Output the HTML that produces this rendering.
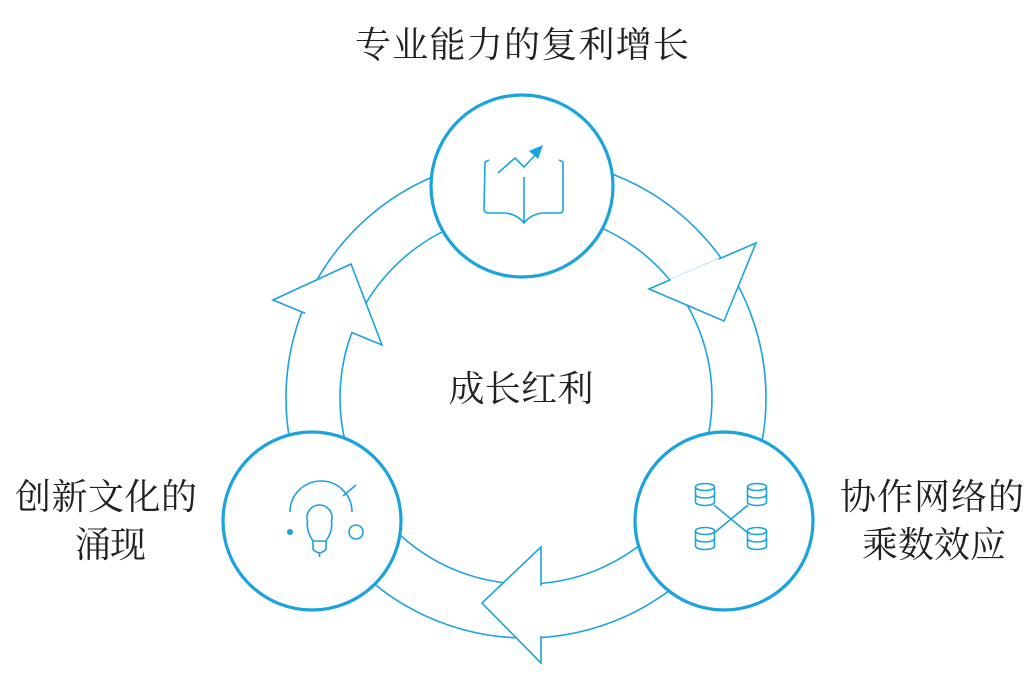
<!DOCTYPE html>
<html><head><meta charset="utf-8"><style>
html,body{margin:0;padding:0;background:#fff;}
svg{display:block;}
text{font-family:"Noto Serif CJK SC","Liberation Serif",serif;fill:#231f20;}
</style></head><body>
<svg width="1034" height="686" viewBox="0 0 1034 686" xmlns="http://www.w3.org/2000/svg">
<g fill="none" stroke="#1ba3dd" stroke-width="1.6">
  <circle cx="526" cy="398" r="240"/>
  <circle cx="526" cy="398" r="186"/>
</g>
<g fill="#fff" stroke="#1ba3dd" stroke-width="1.6" stroke-linejoin="miter">
  <polygon points="649,289 756,243 724,321"/>
  <polygon points="541,547 541,663 482,603"/>
  <polygon points="273,300 382,345 351,264"/>
</g>
<g stroke="#fff" stroke-width="3">
  <line x1="671" y1="280.5" x2="719" y2="260"/>
  <line x1="541" y1="586" x2="541" y2="636"/>
  <line x1="305" y1="313.5" x2="351" y2="332.5"/>
</g>
<g fill="#fff" stroke="#1ba3dd" stroke-width="3.2">
  <circle cx="522" cy="186" r="91"/>
  <circle cx="312" cy="521" r="89"/>
  <circle cx="724" cy="521" r="89"/>
</g>
<g fill="none" stroke="#1ba3dd" stroke-width="1.6">
  <path d="M489,160 L485,162 L484,210 Q485,213 489,213 L505,213 Q517,214 524,223 Q531,214 543,213 L559,213 Q563,213 563,210 L563,162 L559,160"/>
  <line x1="524" y1="177" x2="524" y2="223"/>
  <polyline points="498,173 515,158 524,167 537,153"/>
</g>
<polygon points="543,145 529,151 538,159" fill="#1ba3dd"/>
<g fill="none" stroke="#1ba3dd" stroke-width="1.6">
  <path d="M290,512 A31,31 0 0 1 352,512"/>
  <line x1="343" y1="496" x2="356" y2="485"/>
  <circle cx="356" cy="532" r="7"/>
  <path d="M313,541 Q306,531 307.5,521 A12.5,12.5 0 1 1 331.5,521 Q333,531 326,541 Z"/>
  <path d="M313,541 L313,549 Q315,552 319.5,553 Q324,552 326,549 L326,541"/>
  <line x1="319.5" y1="553" x2="319.5" y2="557"/>
</g>
<circle cx="290" cy="532" r="3" fill="#1ba3dd"/>
<g fill="none" stroke="#1ba3dd" stroke-width="1.6">
  <g id="db">
    <ellipse cx="705" cy="487" rx="9.5" ry="3.5"/>
    <path d="M695.5,487 L695.5,502 A9.5,3.5 0 0 0 714.5,502 L714.5,487"/>
    <path d="M695.5,494.5 A9.5,3.5 0 0 0 714.5,494.5"/>
  </g>
  <use href="#db" x="52" y="0"/>
  <use href="#db" x="0" y="44"/>
  <use href="#db" x="52" y="44"/>
  <line x1="714" y1="505" x2="748" y2="533"/>
  <line x1="748" y1="505" x2="714" y2="533"/>
</g>
<text x="522" y="57" font-size="36" text-anchor="middle" textLength="334">专业能力的复利增长</text>
<text x="521" y="401" font-size="36" text-anchor="middle" textLength="145">成长红利</text>
<text x="15" y="509" font-size="36" textLength="182">创新文化的</text>
<text x="75" y="557" font-size="36" textLength="71">涌现</text>
<text x="840" y="509" font-size="36" textLength="184">协作网络的</text>
<text x="862" y="557" font-size="36" textLength="144">乘数效应</text>
</svg>
</body></html>
